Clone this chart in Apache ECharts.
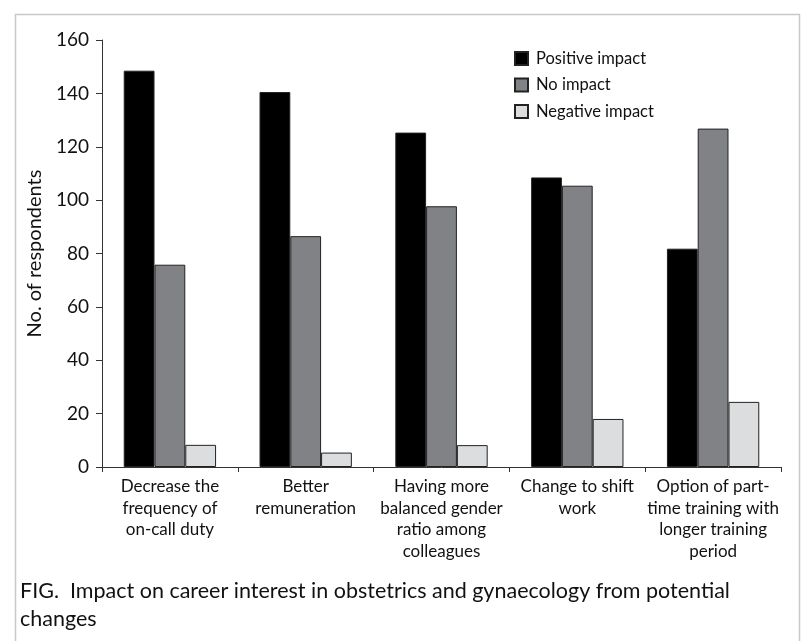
<!DOCTYPE html>
<html lang="en">
<head>
    <meta charset="UTF-8">
    <title>Impact on career interest</title>
    <style>
        html, body { margin: 0; padding: 0; background: #fff; }
    </style>
</head>
<body>
<div id="chart" style="width: 805px; height: 641px"></div>
<script src="https://cdn.jsdelivr.net/npm/echarts@6/dist/echarts.min.js"></script>
<script>
    var categories = [
        'Decrease the\nfrequency of\non-call duty',
        'Better\nremuneration',
        'Having more\nbalanced gender\nratio among\ncolleagues',
        'Change to shift\nwork',
        'Option of part-\ntime training with\nlonger training\nperiod'
    ];
    var seriesNames = ['Positive impact', 'No impact', 'Negative impact'];
    var positive = [148.5, 140.5, 125.3, 108.5, 81.8];
    var noImpact = [75.8, 86.5, 97.7, 105.4, 126.8];
    var negative = [8.3, 5.4, 8.2, 18, 24.4];
    var yTicks = [0, 20, 40, 60, 80, 100, 120, 140, 160];

    var font = 'Lato, "Open Sans", sans-serif';
    var colors = ['#000000', '#818286', '#dcdddf'];
    var values = [positive, noImpact, negative];

    var chart = echarts.init(document.getElementById('chart'));

    var series = [];
    for (var i = 0; i < seriesNames.length; i++) {
        series.push({
            name: seriesNames[i],
            type: 'bar',
            data: values[i],
            barGap: '0%',
            barCategoryGap: '32%',
            itemStyle: {
                color: colors[i],
                borderColor: '#222',
                borderWidth: 1
            }
        });
    }

    var option = {
        animation: false,
        backgroundColor: '#fff',
        textStyle: { fontFamily: font },
        grid: { left: 102, right: 24, top: 40, bottom: 174 },
        legend: {
            orient: 'vertical',
            left: 514,
            top: 50,
            padding: 0,
            itemWidth: 13,
            itemHeight: 13,
            itemGap: 9.5,
            icon: 'rect',
            textStyle: { fontFamily: font, fontSize: 16.5, lineHeight: 16, color: '#111', padding: [0, 0, 0, 3] },
            data: seriesNames
        },
        xAxis: {
            type: 'category',
            data: categories,
            axisLine: { lineStyle: { color: '#333', width: 1 } },
            axisTick: { show: true, length: 5, lineStyle: { color: '#333' } },
            axisLabel: {
                interval: 0,
                margin: 9,
                fontFamily: font,
                fontSize: 17,
                lineHeight: 21.5,
                color: '#111'
            }
        },
        yAxis: {
            type: 'value',
            min: yTicks[0],
            max: yTicks[yTicks.length - 1],
            interval: 20,
            name: 'No. of respondents',
            nameLocation: 'middle',
            nameGap: 56,
            nameTextStyle: { fontFamily: font, fontSize: 20, color: '#111' },
            splitLine: { show: false },
            axisLine: { show: true, lineStyle: { color: '#333', width: 1 } },
            axisTick: { show: true, length: 6, lineStyle: { color: '#333' } },
            axisLabel: { fontFamily: font, fontSize: 19, color: '#111', margin: 13 }
        },
        graphic: [
            {
                type: 'rect',
                left: 13,
                top: 12,
                shape: { width: 784, height: 660 },
                style: { fill: 'none', stroke: '#c8c8c8', lineWidth: 1.5 },
                silent: true
            },
            {
                type: 'text',
                left: 20,
                top: 577,
                style: {
                    text: 'FIG.  Impact on career interest in obstetrics and gynaecology from potential\nchanges',
                    font: '21.5px ' + font,
                    lineHeight: 28,
                    fill: '#111'
                }
            }
        ],
        series: series
    };
    chart.setOption(option);
</script>
</body>
</html>
